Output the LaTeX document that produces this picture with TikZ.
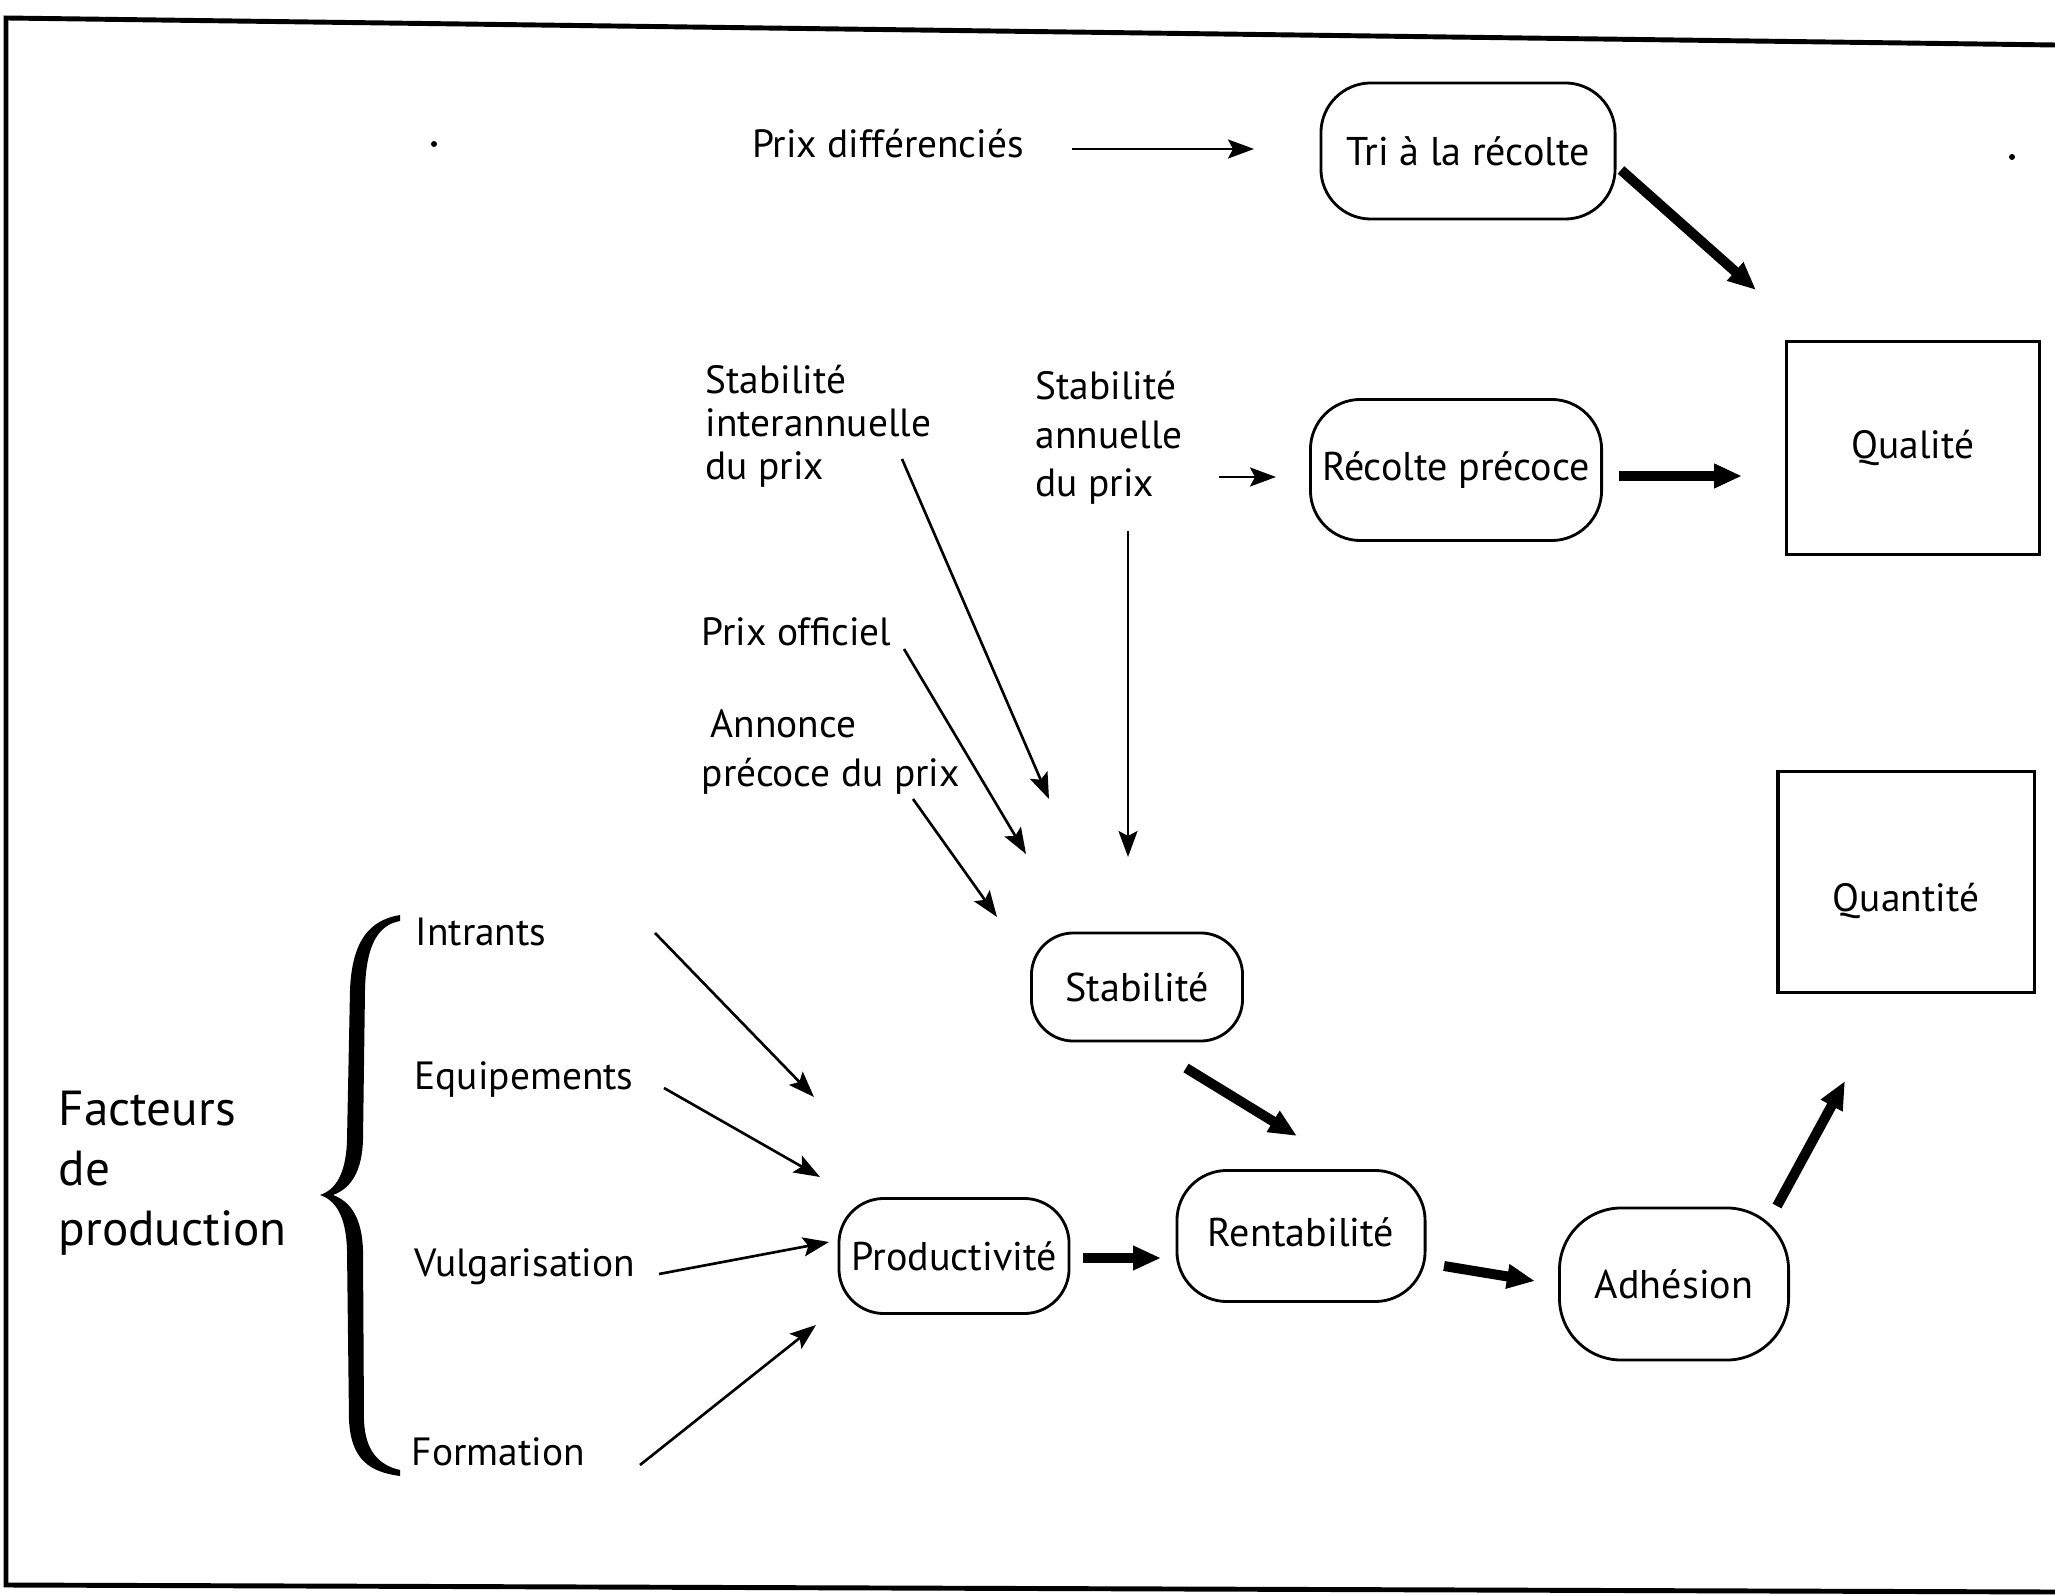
\documentclass[tikz,border=0pt]{standalone}
\usepackage{fontspec}
\setmainfont{PT Sans}
\usetikzlibrary{arrows.meta}
\begin{document}
\begin{tikzpicture}[x=0.01cm,y=-0.01cm,
  lbl/.style={font=\fontsize{11.2}{13.8}\selectfont, inner sep=0pt, align=left},
  big/.style={font=\fontsize{14}{17}\selectfont, inner sep=0pt, align=left},
  rbox/.style={draw, line width=0.8pt, rounded corners=0.5cm, inner sep=0pt, font=\fontsize{11.4}{13}\selectfont},
  sbox/.style={draw, line width=0.9pt, inner sep=0pt, font=\fontsize{11.2}{13}\selectfont},
  thinarrow/.style={line width=0.75pt, -{Stealth[length=0.26cm, width=0.19cm, inset=0.05cm]}},
  thickarrow/.style={line width=0.1cm, -{Triangle[length=0.28cm, width=0.23cm]}}]
\useasboundingbox (0,0) rectangle (2055,1595);
% frame
\draw[line width=1.4pt] (2055,45) -- (6,18) -- (6,1585) -- (2055,1592);
% specks
\fill (434,144) circle (3);
\fill (2012,157) circle (3);
% labels
\node[lbl] (pd) at (888,144) {Prix différenciés};
\node[lbl, anchor=west, font=\fontsize{11.2}{12.2}\selectfont] (sip) at (705,426) {Stabilité\\interannuelle\\du prix};
\node[lbl, anchor=west] (sap) at (1035,438) {Stabilité\\annuelle\\du prix};
\node[lbl, anchor=west] (po) at (701,632) {Prix officiel};
\node[lbl, anchor=west] (apr) at (701,752) {\hspace{0.09cm}Annonce\\précoce du prix};
\node[big, anchor=west] (fdp) at (58,1173) {Facteurs\\de\\production};
\node[lbl, anchor=west] (intr) at (415,932) {Intrants};
\node[lbl, anchor=west] (equi) at (414,1079) {Equipements};
\node[lbl, anchor=west] (vulg) at (414,1267) {Vulgarisation};
\node[lbl, anchor=west] (form) at (411,1452) {Formation};
% rounded boxes
\node[rbox, minimum width=2.94cm, minimum height=1.36cm] (tri) at (1468,151) {Tri à la récolte};
\node[rbox, minimum width=2.91cm, minimum height=1.41cm] (rp) at (1456,470) {Récolte précoce};
\node[rbox, minimum width=2.11cm, minimum height=1.08cm, rounded corners=0.42cm] (stab) at (1137,987) {Stabilité};
\node[rbox, minimum width=2.30cm, minimum height=1.15cm, rounded corners=0.45cm] (prod) at (954,1256) {Productivité};
\node[rbox, minimum width=2.48cm, minimum height=1.31cm] (rent) at (1301,1236) {\raisebox{-0.1cm}[0pt][0pt]{Rentabilité}};
\node[rbox, minimum width=2.29cm, minimum height=1.52cm, rounded corners=0.62cm] (adh) at (1674,1284) {Adhésion};
% square boxes
\node[sbox, minimum width=2.53cm, minimum height=2.13cm] (qual) at (1913,448) {Qualité};
\node[sbox, minimum width=2.56cm, minimum height=2.21cm] (quant) at (1906,882) {\raisebox{-0.29cm}[0pt][0pt]{Quantité}};
% connector end points
\coordinate (a1s) at (1072,149); \coordinate (a1e) at (1254,149);
\coordinate (a2s) at (1621,170); \coordinate (a2e) at (1756,290);
\coordinate (a3s) at (1619,476); \coordinate (a3e) at (1742,476);
\coordinate (a4s) at (1219,477); \coordinate (a4e) at (1276,477);
\coordinate (a5s) at (1128,531); \coordinate (a5e) at (1128,857);
\coordinate (a6s) at (902,459); \coordinate (a6e) at (1049,799);
\coordinate (a7s) at (904,649); \coordinate (a7e) at (1026,854);
\coordinate (a8s) at (913,799); \coordinate (a8e) at (997,917);
\coordinate (a9s) at (1186,1068); \coordinate (a9e) at (1297,1136);
\coordinate (b1s) at (1083,1258); \coordinate (b1e) at (1161,1258);
\coordinate (b2s) at (1444,1266); \coordinate (b2e) at (1535,1281);
\coordinate (b3s) at (1777,1206); \coordinate (b3e) at (1845,1081);
\coordinate (c1s) at (655,933); \coordinate (c1e) at (814,1097);
\coordinate (c2s) at (664,1088); \coordinate (c2e) at (820,1177);
\coordinate (c3s) at (659,1274); \coordinate (c3e) at (829,1242);
\coordinate (c4s) at (640,1465); \coordinate (c4e) at (816,1325);
% thin arrows
\draw[thinarrow] (a1s) -- (a1e);
\draw[thinarrow] (a4s) -- (a4e);
\draw[thinarrow] (a5s) -- (a5e);
\draw[thinarrow] (a6s) -- (a6e);
\draw[thinarrow] (a7s) -- (a7e);
\draw[thinarrow] (a8s) -- (a8e);
\draw[thinarrow] (c1s) -- (c1e);
\draw[thinarrow] (c2s) -- (c2e);
\draw[thinarrow] (c3s) -- (c3e);
\draw[thinarrow] (c4s) -- (c4e);
% thick arrows
\draw[thickarrow] (a2s) -- (a2e);
\draw[thickarrow] (a3s) -- (a3e);
\draw[thickarrow] (a9s) -- (a9e);
\draw[thickarrow] (b1s) -- (b1e);
\draw[thickarrow] (b2s) -- (b2e);
\draw[thickarrow] (b3s) -- (b3e);
% brace
\fill (400,915) .. controls (370,920) and (352,940) .. (350,990) -- (347,1140)
  .. controls (346,1175) and (335,1190) .. (320,1195)
  .. controls (335,1200) and (346,1215) .. (347,1250) -- (349,1420)
  .. controls (351,1460) and (370,1472) .. (400,1476)
  -- (400,1470) .. controls (378,1465) and (365,1450) .. (364,1420) -- (363,1250)
  .. controls (362,1220) and (352,1202) .. (333,1195)
  .. controls (352,1188) and (362,1170) .. (363,1140) -- (365,990)
  .. controls (366,945) and (378,925) .. (400,921) -- cycle;
\end{tikzpicture}
\end{document}
